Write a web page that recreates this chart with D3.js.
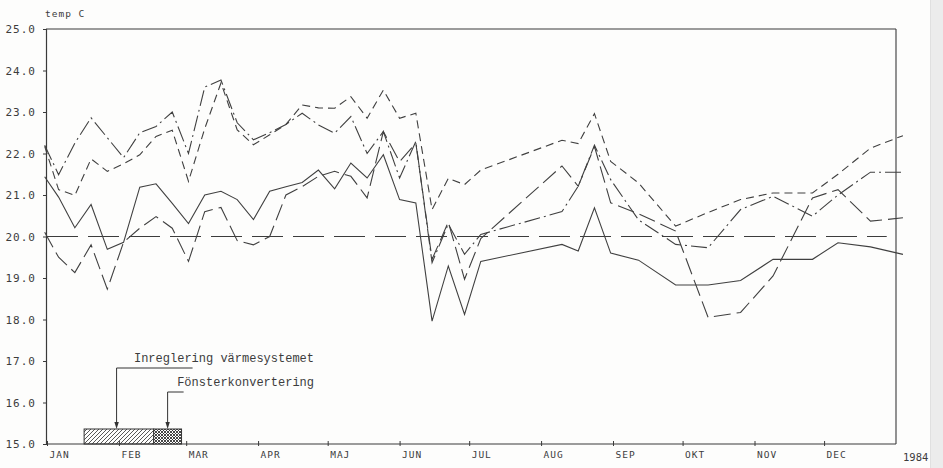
<!DOCTYPE html>
<html>
<head>
<meta charset="utf-8">
<script src="https://cdn.jsdelivr.net/npm/d3@7"></script>
<style>
  body { margin: 0; background: #fdfdfc; }
  svg text { font-family: "DejaVu Sans Mono", monospace; fill: #3c3c3c; }
</style>
</head>
<body>
<svg id="chart" width="943" height="468"></svg>
<script>
// Measurement dates (weekly in spring, weekly/biweekly in autumn)
const dates = [
  "1983-12-31","1984-01-06","1984-01-13","1984-01-20","1984-01-27","1984-02-03","1984-02-10",
  "1984-02-17","1984-02-24","1984-03-02","1984-03-09","1984-03-16","1984-03-23","1984-03-30",
  "1984-04-06","1984-04-13","1984-04-20","1984-04-27","1984-05-04","1984-05-11","1984-05-18",
  "1984-05-25","1984-06-01","1984-06-08","1984-06-15","1984-06-22","1984-06-29","1984-07-06",
  "1984-08-10","1984-08-17","1984-08-24","1984-08-31","1984-09-12","1984-09-28","1984-10-12",
  "1984-10-26","1984-11-09","1984-11-26","1984-12-07","1984-12-21","1985-01-04"
];

// Indoor temperatures, deg C
const solid = [21.44,20.95,20.21,20.77,19.69,19.86,21.19,21.27,20.8,20.31,21.0,21.09,20.89,20.41,
  21.09,21.2,21.3,21.6,21.15,21.77,21.41,21.97,20.89,20.81,17.96,19.29,18.12,19.4,
  19.81,19.65,20.69,19.6,19.43,18.83,18.83,18.94,19.45,19.45,19.85,19.75,19.57];
const longDash = [20.1,19.5,19.13,19.8,18.73,19.86,20.2,20.48,20.2,19.4,20.6,20.7,19.9,19.8,
  20.0,21.0,21.2,21.45,21.57,21.45,20.93,22.53,21.8,22.25,19.45,20.35,18.97,19.95,
  21.7,21.21,22.17,20.81,20.55,20.13,18.05,18.17,19.05,20.93,21.13,20.37,20.45];
const dashDot = [22.2,21.49,22.25,22.86,22.38,21.9,22.5,22.65,23.0,22.0,23.6,23.77,22.74,22.33,
  22.5,22.7,22.97,22.69,22.49,22.89,22.0,22.53,21.41,22.29,19.37,20.3,19.57,20.05,
  20.6,21.21,22.2,21.37,20.4,19.81,19.73,20.65,20.97,20.49,21.0,21.55,21.55];
const shortDash = [22.17,21.13,20.99,21.87,21.57,21.75,21.97,22.41,22.56,21.33,22.6,23.7,22.57,22.21,
  22.45,22.7,23.17,23.1,23.09,23.37,22.85,23.53,22.85,22.97,20.65,21.4,21.25,21.6,
  22.32,22.24,22.96,21.81,21.29,20.25,20.58,20.89,21.05,21.05,21.5,22.13,22.43];

// Reference temperature line
const refValue = 20.0;
const refDates = ["1984-01-01", "1984-12-28"];

// Axis ticks
const yTicks = [15,16,17,18,19,20,21,22,23,24,25];
const monthLabels = ["JAN","FEB","MAR","APR","MAJ","JUN","JUL","AUG","SEP","OKT","NOV","DEC"];
const yearLabel = "1984";
const yTitle = "temp C";

// Measures taken during the year
const noteLabels = ["Inreglering värmesystemet", "Fönsterkonvertering"];
const noteDates = ["1984-01-31", "1984-02-22"];
const periodStart = ["1984-01-17", "1984-02-16"];
const periodEnd = ["1984-02-16", "1984-02-28"];

const parse = d3.timeParse("%Y-%m-%d");
const svg = d3.select("#chart");
const ink = "#3a3a3a";

// scanned-page edge at the right
svg.append("rect").attr("x", 930).attr("y", 0).attr("width", 13).attr("height", 468).attr("fill", "#ececec");
svg.append("line").attr("x1", 930.5).attr("x2", 930.5).attr("y1", 0).attr("y2", 468).attr("stroke", "#e0e0e0");

const x = d3.scaleTime().domain([new Date(1984,0,1), new Date(1985,0,1)]).range([47, 896]);
const y = d3.scaleLinear().domain([15, 25]).range([444, 29]);
const x0 = 46, x1 = 896;

// hatch patterns
const defs = svg.append("defs");
const hatch = defs.append("pattern").attr("id","hatch").attr("patternUnits","userSpaceOnUse")
  .attr("width",4).attr("height",4);
hatch.append("path").attr("d","M-1,1 l2,-2 M0,4 l4,-4 M3,5 l2,-2").attr("stroke","#444").attr("stroke-width",0.9);
const cross = defs.append("pattern").attr("id","cross").attr("patternUnits","userSpaceOnUse")
  .attr("width",3).attr("height",3);
cross.append("rect").attr("width",3).attr("height",3).attr("fill","#fff");
cross.append("path").attr("d","M0,0 L3,3 M3,0 L0,3").attr("stroke","#333").attr("stroke-width",0.9);

// frame: top and right border
svg.append("line").attr("x1", x0).attr("x2", x1).attr("y1", y(25)).attr("y2", y(25))
  .attr("stroke", ink).attr("stroke-width", 1.2);
svg.append("line").attr("x1", x1).attr("x2", x1).attr("y1", y(25)).attr("y2", y(15))
  .attr("stroke", ink).attr("stroke-width", 1.1);

// y axis
const yAxis = svg.append("g").attr("transform", `translate(${x0},0)`)
  .call(d3.axisLeft(y).tickValues(yTicks).tickSize(3).tickPadding(7).tickFormat(d3.format(".1f")));
yAxis.select(".domain").attr("stroke", ink).attr("stroke-width", 1.2);
yAxis.selectAll(".tick line").attr("stroke", ink);
yAxis.selectAll(".tick text").style("font-size", "11px").style("letter-spacing", "1px").attr("fill", ink);

svg.append("text").attr("x", x0 - 1).attr("y", 17).text(yTitle)
  .style("font-size", "9.5px").style("letter-spacing", "1px");

// x axis with month ticks
const months = d3.timeMonth.range(new Date(1984,0,1), new Date(1985,0,1));
const xAxis = svg.append("g").attr("transform", `translate(0,${y(15)})`)
  .call(d3.axisBottom(x).tickValues(months).tickSize(2).tickFormat((d, i) => monthLabels[i]));
xAxis.select(".domain").attr("stroke", ink).attr("stroke-width", 1.2).attr("d", `M${x0},0H${x1}`);
xAxis.selectAll(".tick line").attr("y1", -3).attr("y2", 2).attr("stroke", ink);
xAxis.selectAll(".tick text").attr("text-anchor", "start").attr("x", 2).attr("y", 7)
  .style("font-size", "9.5px").style("letter-spacing", "1px").attr("fill", ink);

svg.append("text").attr("x", 903).attr("y", 461).text(yearLabel).style("font-size", "10.5px");

// reference line at 20 C
svg.append("line")
  .attr("x1", x(parse(refDates[0]))).attr("x2", x(parse(refDates[1])))
  .attr("y1", y(refValue)).attr("y2", y(refValue))
  .attr("stroke", "#3c3c3c").attr("stroke-width", 1.1).attr("stroke-dasharray", "31,10");

// temperature series
const line = d3.line().x((d, i) => x(parse(dates[i]))).y(d => y(d));
const series = [
  { values: longDash, dash: "17,6" },
  { values: shortDash, dash: "8,5" },
  { values: dashDot, dash: "16,4,2,4" },
  { values: solid, dash: null }
];
series.forEach(s => {
  svg.append("path").attr("d", line(s.values)).attr("fill", "none")
    .attr("stroke", "#404040").attr("stroke-width", 1.1)
    .attr("stroke-linejoin", "miter")
    .attr("stroke-dasharray", s.dash);
});

// periods of the measures
const boxTop = y(15) - 15;
periodStart.forEach((d, i) => {
  const xa = x(parse(d)), xb = x(parse(periodEnd[i]));
  svg.append("rect").attr("x", xa).attr("y", boxTop).attr("width", xb - xa).attr("height", y(15) - boxTop)
    .attr("fill", i === 0 ? "url(#hatch)" : "url(#cross)")
    .attr("stroke", "#333").attr("stroke-width", 1);
});

// annotation labels with leader arrows
const noteLayout = [ { lineY: 368, lineLen: 76 }, { lineY: 392, lineLen: 16 } ];
noteLabels.forEach((label, i) => {
  const xa = x(parse(noteDates[i]));
  const L = noteLayout[i];
  svg.append("path")
    .attr("d", `M${xa + L.lineLen},${L.lineY}H${xa}V${boxTop - 5}`)
    .attr("fill", "none").attr("stroke", "#333").attr("stroke-width", 1);
  svg.append("path")
    .attr("d", `M${xa - 2.2},${boxTop - 7}L${xa + 2.2},${boxTop - 7}L${xa},${boxTop}Z`)
    .attr("fill", "#333");
  svg.append("text").attr("x", 314).attr("y", L.lineY - 6).attr("text-anchor", "end")
    .text(label)
    .style("font-family", "'Liberation Mono', monospace").style("font-size", "12px");
});
</script>
</body>
</html>
